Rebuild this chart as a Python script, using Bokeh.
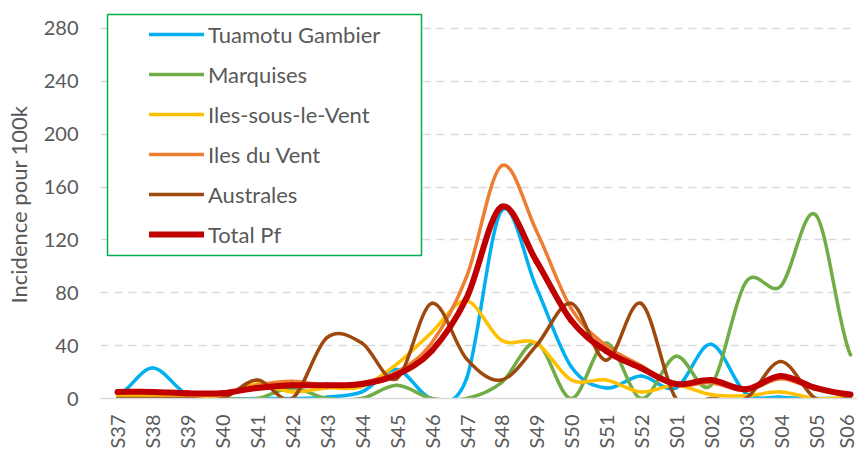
import numpy as np
from bokeh.plotting import figure
from bokeh.models import (Range1d, FixedTicker, Legend, LegendItem, ColumnDataSource,
                          BoxAnnotation)
from bokeh.embed import file_html
from bokeh.resources import INLINE

categories = ["S37", "S38", "S39", "S40", "S41", "S42", "S43", "S44", "S45", "S46",
              "S47", "S48", "S49", "S50", "S51", "S52", "S01", "S02", "S03", "S04",
              "S05", "S06"]

tuamotu = [2, 23, 3, 0, 0, 0, 1, 5, 22, 0, 15, 142, 84, 24, 8, 17, 8, 41, 4, 1, 0, 0]
marquises = [0, 0, 0, 0, 0, 8, 0, 0, 10, 0, 0, 12, 42, 0, 42, 0, 32, 10, 88, 85, 139, 33]
iles_slv = [2, 2, 2, 2, 11, 5, 8, 9, 26, 50, 74, 44, 42, 14, 14, 5, 10, 3, 2, 5, 0, 1]
iles_dv = [5, 5, 3, 3, 10, 13, 10, 12, 20, 42, 92, 176, 127, 68, 40, 25, 10, 12, 6, 15, 7, 2]
australes = [0, 0, 0, 0, 14, 0, 46, 42, 15, 72, 30, 14, 40, 72, 29, 72, 0, 0, 0, 28, 0, 0]
total_pf = [5, 5, 4, 4, 8, 10, 10, 11, 18, 36, 76, 145, 104, 59, 36, 23, 11, 14, 7, 17, 8, 3]

y_ticks = [0, 40, 80, 120, 160, 200, 240, 280]

series = [
    ("Tuamotu Gambier", tuamotu, "#00b0f0", 3.5),
    ("Marquises", marquises, "#70ad47", 3.5),
    ("Iles-sous-le-Vent", iles_slv, "#ffc000", 3.5),
    ("Iles du Vent", iles_dv, "#ed7d31", 3.5),
    ("Australes", australes, "#9e480e", 3.5),
    ("Total Pf", total_pf, "#c00000", 6),
]

FONT = "Lato"
GREY = "#595959"

p = figure(width=857, height=452, output_backend="svg", toolbar_location=None,
           x_range=Range1d(-0.487, 21.2), y_range=Range1d(0, 293.6),
           min_border_left=100, min_border_right=0, min_border_top=10, min_border_bottom=54)
p.outline_line_color = None
p.background_fill_color = "white"
p.border_fill_color = "white"

xs = np.arange(len(categories), dtype=float)


def bezier_source(vals):
    y = np.asarray(vals, dtype=float)
    yp = np.concatenate([[y[0]], y, [y[-1]]])
    m = (yp[2:] - yp[:-2]) / 2.0
    return ColumnDataSource(dict(
        x0=xs[:-1], y0=y[:-1], x1=xs[1:], y1=y[1:],
        cx0=xs[:-1] + 1 / 3, cy0=y[:-1] + m[:-1] / 3,
        cx1=xs[1:] - 1 / 3, cy1=y[1:] - m[1:] / 3,
    ))


# legend frame (green box)
box = BoxAnnotation(left=7, right=321, bottom=143, top=384,
                    left_units="screen", right_units="screen",
                    bottom_units="screen", top_units="screen",
                    fill_color="white", fill_alpha=1.0,
                    line_color="#00b050", line_alpha=1.0, line_width=1.5)
p.add_layout(box)

items = []
for name, vals, color, lw in series:
    src = bezier_source(vals)
    p.bezier(x0="x0", y0="y0", x1="x1", y1="y1", cx0="cx0", cy0="cy0",
             cx1="cx1", cy1="cy1", source=src, line_color=color,
             line_width=lw, line_cap="round")
    r = p.line(x=xs, y=vals, line_color=color, line_width=lw, line_cap="round",
               visible=False)
    items.append(LegendItem(label=name, renderers=[r]))

legend = Legend(items=items, location=(49, 144), orientation="vertical")
legend.label_text_font = FONT
legend.label_text_font_size = "22px"
legend.label_text_color = GREY
legend.border_line_color = None
legend.background_fill_alpha = 0
legend.inactive_fill_alpha = 0
legend.padding = 0
legend.margin = 0
legend.spacing = 0
legend.label_height = 40
legend.glyph_height = 40
legend.glyph_width = 55
legend.label_standoff = 4
p.add_layout(legend, "center")

# y axis
p.yaxis.ticker = FixedTicker(ticks=y_ticks)
p.yaxis.axis_line_color = None
p.yaxis.major_tick_line_color = None
p.yaxis.major_tick_out = 0
p.yaxis.major_tick_in = 0
p.yaxis.minor_tick_line_color = None
p.yaxis.major_label_standoff = 22
p.yaxis.major_label_text_font = FONT
p.yaxis.major_label_text_font_size = "20px"
p.yaxis.major_label_text_color = GREY
p.yaxis.axis_label = "Incidence pour 100k"
p.yaxis.axis_label_text_font = FONT
p.yaxis.axis_label_text_font_size = "22px"
p.yaxis.axis_label_text_font_style = "normal"
p.yaxis.axis_label_text_color = GREY
p.yaxis.axis_label_standoff = 9

# x axis
p.xaxis.ticker = FixedTicker(ticks=list(range(len(categories))))
p.xaxis.major_label_overrides = {i: c for i, c in enumerate(categories)}
p.xaxis.major_label_orientation = np.pi / 2
p.xaxis.axis_line_color = "#d9d9d9"
p.xaxis.axis_line_width = 1.5
p.xaxis.major_tick_line_color = None
p.xaxis.major_tick_out = 0
p.xaxis.major_tick_in = 0
p.xaxis.minor_tick_line_color = None
p.xaxis.major_label_standoff = 16
p.xaxis.major_label_text_font = FONT
p.xaxis.major_label_text_font_size = "20px"
p.xaxis.major_label_text_color = GREY

p.xgrid.grid_line_color = None
p.ygrid.ticker = FixedTicker(ticks=y_ticks[1:])
p.ygrid.grid_line_color = "#d9d9d9"
p.ygrid.grid_line_width = 1.5
p.ygrid.grid_line_dash = "8 6"

open("out.html", "w").write(file_html(p, INLINE))
